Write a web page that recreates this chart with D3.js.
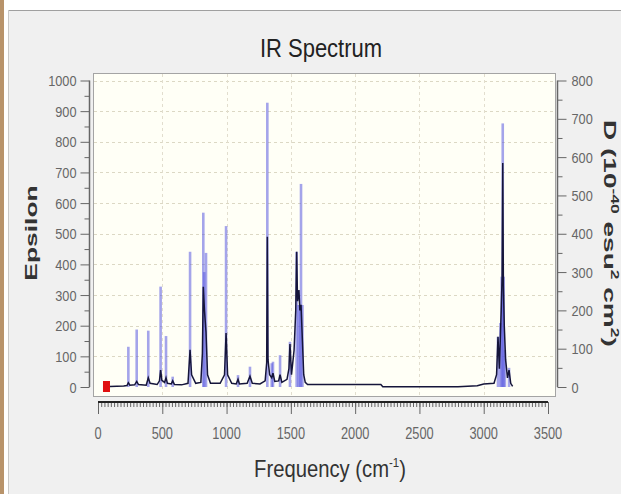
<!DOCTYPE html>
<html>
<head>
<meta charset="utf-8">
<script src="https://cdn.jsdelivr.net/npm/d3@7"></script>
<style>
  html, body { margin: 0; padding: 0; background: #fff; }
  svg { display: block; font-family: "Liberation Sans", Arial, sans-serif; }
</style>
</head>
<body>
<div id="chart"></div>
<script>
// stick spectrum: [frequency cm-1, D on right axis]
var sticks = [
  [236, 105], [301, 150], [391, 147], [487, 262], [529, 133], [581, 27],
  [716, 353], [819, 455], [826, 300], [840, 350], [996, 420],
  [1089, 31], [1182, 53], [1317, 742], [1351, 62], [1361, 66], [1416, 83],
  [1493, 118], [1545, 353], [1560, 214], [1570, 214], [1579, 530], [1590, 214],
  [3111, 131], [3130, 167], [3140, 288], [3148, 688], [3155, 288], [3165, 96], [3197, 50]
];

// broadened curve: [frequency cm-1, epsilon]
var curve = [
  [93, 2], [200, 3], [225, 5], [236, 14], [248, 6], [285, 7], [301, 18], [315, 8],
  [375, 6], [391, 30], [405, 12], [460, 8], [478, 20], [487, 55], [497, 22], [518, 15],
  [529, 30], [540, 12], [570, 10], [581, 20], [595, 8], [650, 7], [700, 12], [716, 121],
  [728, 40], [760, 12], [800, 15], [812, 110], [819, 327], [828, 250], [840, 180],
  [852, 40], [875, 12], [950, 12], [984, 40], [996, 176], [1008, 40], [1040, 12],
  [1075, 10], [1089, 25], [1100, 10], [1160, 12], [1182, 35], [1200, 12], [1260, 10],
  [1300, 20], [1312, 80], [1317, 490], [1322, 90], [1335, 40], [1351, 30], [1361, 45],
  [1375, 18], [1405, 20], [1416, 40], [1430, 15], [1470, 25], [1485, 60], [1493, 140],
  [1505, 40], [1525, 120], [1538, 250], [1545, 441], [1552, 280], [1563, 316], [1570, 250],
  [1579, 268], [1590, 150], [1600, 40], [1612, 15], [1630, 8], [2200, 8], [2215, 1],
  [2800, 1], [2950, 4], [3000, 10], [3080, 12], [3100, 40], [3111, 164], [3122, 60],
  [3136, 250], [3143, 360], [3148, 731], [3153, 330], [3160, 200], [3170, 90],
  [3185, 30], [3197, 55], [3210, 12], [3225, 2]
];

var markerFreq = [66];
var epsTicks = [0, 100, 200, 300, 400, 500, 600, 700, 800, 900, 1000];
var dTicks = [0, 100, 200, 300, 400, 500, 600, 700, 800];
var freqTicks = [0, 500, 1000, 1500, 2000, 2500, 3000, 3500];

var W = 621, H = 494;
var box = { left: 93, top: 73, right: 555, bottom: 396 };

var svg = d3.select("#chart").append("svg")
  .attr("width", W)
  .attr("height", H);

// window frame
svg.append("rect").attr("x", 0).attr("y", 0).attr("width", W).attr("height", H).attr("fill", "#ffffff");
svg.append("rect").attr("x", 8).attr("y", 10).attr("width", W - 8).attr("height", H - 10).attr("fill", "#f0f0f0");
svg.append("rect").attr("x", 0).attr("y", 0).attr("width", 4).attr("height", H).attr("fill", "#b8936a");
svg.append("line").attr("x1", 8).attr("x2", W).attr("y1", 10.5).attr("y2", 10.5).attr("stroke", "#a0a0a0");
svg.append("line").attr("x1", 8.5).attr("x2", 8.5).attr("y1", 10).attr("y2", H).attr("stroke", "#c8c8c8");

var x = d3.scaleLinear().domain([0, 3500]).range([98, 548]);
var yL = d3.scaleLinear().domain([0, 1000]).range([387, 80.5]);
var yR = d3.scaleLinear().domain([0, 800]).range([387, 80.5]);

// plot area
svg.append("rect")
  .attr("x", box.left + 0.5).attr("y", box.top + 0.5)
  .attr("width", box.right - box.left).attr("height", box.bottom - box.top)
  .attr("fill", "#fffff6")
  .attr("stroke", "#a4a4a4");

var grid = svg.append("g");
grid.selectAll("line.h").data(epsTicks.slice(1)).join("line")
  .attr("x1", box.left + 1).attr("x2", box.right)
  .attr("y1", function (d) { return Math.round(yL(d)) + 0.5; })
  .attr("y2", function (d) { return Math.round(yL(d)) + 0.5; })
  .attr("stroke", "#dcd8c4")
  .attr("stroke-dasharray", "3,3");
grid.selectAll("line.v").data(freqTicks.slice(1, -1)).join("line")
  .attr("x1", function (d) { return Math.round(x(d)) + 0.5; })
  .attr("x2", function (d) { return Math.round(x(d)) + 0.5; })
  .attr("y1", box.top + 1).attr("y2", box.bottom)
  .attr("stroke", "#e2dece")
  .attr("stroke-dasharray", "3,3");

// sticks
svg.append("g").selectAll("rect").data(sticks).join("rect")
  .attr("x", function (d) { return x(d[0]) - 1.3; })
  .attr("width", 2.6)
  .attr("y", function (d) { return yR(d[1]); })
  .attr("height", function (d) { return yR(0) - yR(d[1]); })
  .attr("fill", "#5a5ae0")
  .attr("fill-opacity", 0.55);

// broadened curve
var line = d3.line()
  .x(function (d) { return x(d[0]); })
  .y(function (d) { return yL(d[1]); });
svg.append("path")
  .datum(curve)
  .attr("d", line)
  .attr("fill", "none")
  .attr("stroke", "#15153a")
  .attr("stroke-width", 1.5);

// red marker
svg.append("g").selectAll("rect").data(markerFreq).join("rect")
  .attr("x", function (d) { return x(d) - 3.5; })
  .attr("y", yL(0) - 6)
  .attr("width", 7).attr("height", 11)
  .attr("fill", "#e01010");

function tickStyle(g) {
  g.selectAll("path.domain").remove();
  g.selectAll(".tick line").attr("stroke", "#666");
}

// left axis
var gL = svg.append("g").attr("transform", "translate(89.5,0)");
gL.append("g").call(d3.axisLeft(yL).tickValues(d3.range(50, 1000, 100)).tickSize(5).tickFormat("")).call(tickStyle);
gL.append("g").call(d3.axisLeft(yL).tickValues(epsTicks).tickSize(9).tickFormat("")).call(tickStyle);
gL.append("line").attr("y1", yL(1000)).attr("y2", yL(0)).attr("stroke", "#666").attr("stroke-width", 1.5);
gL.selectAll("text.lbl").data(epsTicks).join("text")
  .attr("class", "lbl")
  .attr("transform", function (d) { return "translate(-13," + (yL(d) + 5.5) + ") scale(0.85,1)"; })
  .attr("text-anchor", "end")
  .attr("font-size", 15)
  .attr("fill", "#666")
  .text(function (d) { return d; });

// right axis
var gR = svg.append("g").attr("transform", "translate(557.5,0)");
gR.append("g").call(d3.axisRight(yR).tickValues(d3.range(50, 800, 100)).tickSize(5).tickFormat("")).call(tickStyle);
gR.append("g").call(d3.axisRight(yR).tickValues(dTicks).tickSize(9).tickFormat("")).call(tickStyle);
gR.append("line").attr("y1", yR(800)).attr("y2", yR(0)).attr("stroke", "#666").attr("stroke-width", 1.5);
gR.selectAll("text.lbl").data(dTicks).join("text")
  .attr("class", "lbl")
  .attr("transform", function (d) { return "translate(14," + (yR(d) + 5.5) + ") scale(0.85,1)"; })
  .attr("text-anchor", "start")
  .attr("font-size", 15)
  .attr("fill", "#666")
  .text(function (d) { return d; });

// bottom axis
var gX = svg.append("g").attr("transform", "translate(0,402)");
gX.append("g").call(d3.axisBottom(x).tickValues(d3.range(0, 3501, 25)).tickSize(5).tickFormat("")).call(tickStyle);
gX.append("g").call(d3.axisBottom(x).tickValues(freqTicks).tickSize(12).tickFormat("")).call(tickStyle);
gX.append("line").attr("x1", x(0)).attr("x2", x(3500)).attr("stroke", "#222").attr("stroke-width", 2);
gX.selectAll("text.lbl").data(freqTicks).join("text")
  .attr("class", "lbl")
  .attr("transform", function (d) { return "translate(" + x(d) + ",37) scale(0.8,1)"; })
  .attr("text-anchor", "middle")
  .attr("font-size", 16)
  .attr("fill", "#666")
  .text(function (d) { return d; });

// titles
svg.append("text")
  .attr("transform", "translate(321,57) scale(0.88,1)")
  .attr("text-anchor", "middle")
  .attr("font-size", 25)
  .attr("fill", "#222")
  .text("IR Spectrum");

var fx = svg.append("text")
  .attr("transform", "translate(330,477) scale(0.88,1)")
  .attr("text-anchor", "middle")
  .attr("font-size", 23)
  .attr("fill", "#333");
fx.append("tspan").text("Frequency (cm");
fx.append("tspan").attr("font-size", 13).attr("dy", -10).text("-1");
fx.append("tspan").attr("dy", 10).text(")");

svg.append("text")
  .attr("transform", "translate(37,233) rotate(-90) scale(1.65,1)")
  .attr("text-anchor", "middle")
  .attr("font-size", 16)
  .attr("font-weight", "bold")
  .attr("fill", "#333")
  .text("Epsilon");

var rt = svg.append("text")
  .attr("transform", "translate(604,120) rotate(90) scale(1.75,1)")
  .attr("text-anchor", "start")
  .attr("font-size", 16)
  .attr("font-weight", "bold")
  .attr("fill", "#333");
rt.append("tspan").text("D (10");
rt.append("tspan").attr("font-size", 10).attr("dy", -7).text("-40");
rt.append("tspan").attr("dy", 7).text(" esu");
rt.append("tspan").attr("font-size", 10).attr("dy", -7).text("2");
rt.append("tspan").attr("dy", 7).text(" cm");
rt.append("tspan").attr("font-size", 10).attr("dy", -7).text("2");
rt.append("tspan").attr("dy", 7).text(")");
</script>
</body>
</html>
